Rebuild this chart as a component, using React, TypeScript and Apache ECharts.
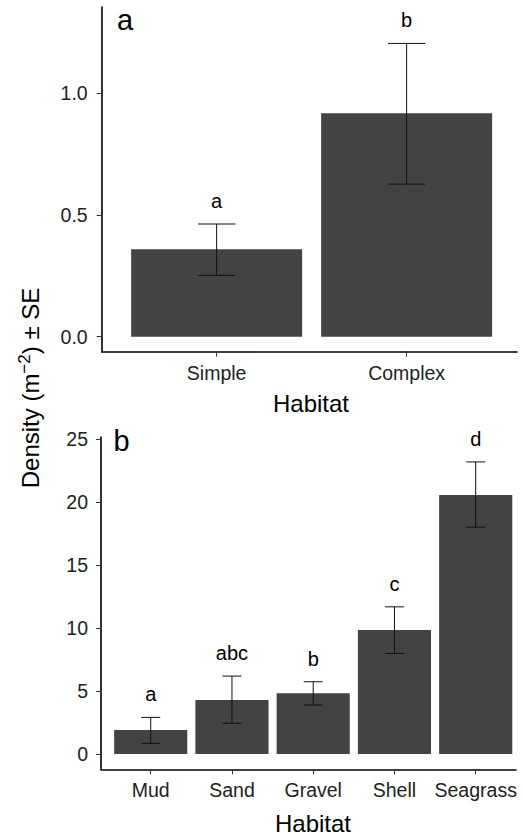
import React, { useEffect, useRef } from "react";
import * as echarts from "echarts";

// Panel a: structural complexity
const habitatsA = ["Simple", "Complex"];
const densityA = [0.359, 0.918];
const seLowA = [0.252, 0.627];
const seHighA = [0.463, 1.205];
const lettersA = ["a", "b"];
const yTicksA = [0, 0.5, 1.0];

// Panel b: substrate type
const habitatsB = ["Mud", "Sand", "Gravel", "Shell", "Seagrass"];
const densityB = [1.9, 4.29, 4.82, 9.84, 20.58];
const seLowB = [0.85, 2.44, 3.89, 7.99, 18.02];
const seHighB = [2.91, 6.19, 5.74, 11.69, 23.2];
const lettersB = ["a", "abc", "b", "c", "d"];
const yTicksB = [0, 5, 10, 15, 20, 25];

const FONT = "'Liberation Sans', Arial, Helvetica, sans-serif";
const BAR = "#434343";
const INK = "#111";

function barWithError(letters: string[], capHalf: number) {
  return (params: any, api: any) => {
    const x = api.value(0);
    const m = api.value(1);
    const lo = api.value(2);
    const hi = api.value(3);
    const tl = api.coord([x - 0.45, m]);
    const br = api.coord([x + 0.45, 0]);
    const pLo = api.coord([x, lo]);
    const pHi = api.coord([x, hi]);
    const cl = api.coord([x - capHalf, hi])[0];
    const cr = api.coord([x + capHalf, hi])[0];
    const line = (x1: number, y1: number, x2: number, y2: number) => ({
      type: "line",
      shape: { x1, y1, x2, y2 },
      style: { stroke: INK, lineWidth: 1 },
    });
    return {
      type: "group",
      children: [
        {
          type: "rect",
          shape: { x: tl[0], y: tl[1], width: br[0] - tl[0], height: br[1] - tl[1] },
          style: { fill: BAR },
        },
        line(pLo[0], pLo[1], pHi[0], pHi[1]),
        line(cl, pHi[1], cr, pHi[1]),
        line(cl, pLo[1], cr, pLo[1]),
        {
          type: "text",
          x: pHi[0],
          y: pHi[1] - 23,
          style: {
            text: letters[params.dataIndex],
            fill: "#000",
            fontSize: 20,
            fontFamily: FONT,
            align: "center",
            verticalAlign: "middle",
          },
        },
      ],
    };
  };
}

function valueX(gridIndex: number, min: number, max: number, names: string[]) {
  const cats = names.map((_, i) => i + 1);
  return {
    type: "value",
    gridIndex,
    min,
    max,
    splitLine: { show: false },
    axisLine: { show: true, onZero: false, lineStyle: { color: "#000", width: 1.6 } },
    axisTick: { show: true, length: 5, customValues: cats, lineStyle: { color: "#333", width: 1 } },
    axisLabel: {
      customValues: cats,
      margin: 11,
      fontSize: 19.5,
      fontFamily: FONT,
      color: "#222",
      formatter: (v: number) => names[Math.round(v) - 1] ?? "",
    },
  };
}

function valueY(gridIndex: number, min: number, max: number, ticks: number[], digits: number, margin: number) {
  return {
    type: "value",
    gridIndex,
    min,
    max,
    splitLine: { show: false },
    axisLine: { show: true, onZero: false, lineStyle: { color: "#000", width: 1.6 } },
    axisTick: { show: true, length: 5, customValues: ticks, lineStyle: { color: "#333", width: 1 } },
    axisLabel: {
      customValues: ticks,
      margin,
      fontSize: 19.5,
      fontFamily: FONT,
      color: "#222",
      formatter: (v: number) => v.toFixed(digits),
    },
  };
}

export default function App() {
  const ref = useRef<HTMLDivElement>(null);

  useEffect(() => {
    if (!ref.current) return;
    const chart = echarts.init(ref.current, undefined, { renderer: "svg" });

    const dataA = densityA.map((v, i) => [i + 1, v, seLowA[i], seHighA[i]]);
    const dataB = densityB.map((v, i) => [i + 1, v, seLowB[i], seHighB[i]]);

    chart.setOption({
      animation: false,
      backgroundColor: "#fff",
      textStyle: { fontFamily: FONT },
      grid: [
        { left: 101.7, top: 7, width: 415.3, height: 344.7 },
        { left: 101, top: 437, width: 415, height: 332.3 },
      ],
      xAxis: [
        valueX(0, 0.395, 2.581, habitatsA),
        valueX(1, 0.388, 5.496, habitatsB),
      ],
      yAxis: [
        valueY(0, -0.0616, 1.3546, yTicksA, 1, 14),
        valueY(1, -1.215, 25.18, yTicksB, 0, 13),
      ],
      series: [
        {
          type: "custom",
          xAxisIndex: 0,
          yAxisIndex: 0,
          clip: false,
          data: dataA,
          encode: { x: 0, y: [1, 2, 3] },
          renderItem: barWithError(lettersA, 0.098),
        },
        {
          type: "custom",
          xAxisIndex: 1,
          yAxisIndex: 1,
          clip: false,
          data: dataB,
          encode: { x: 0, y: [1, 2, 3] },
          renderItem: barWithError(lettersB, 0.117),
        },
      ],
      graphic: [
        {
          type: "text",
          x: 125,
          y: 20,
          style: { text: "a", fontSize: 29, fontFamily: FONT, fill: "#000", align: "center", verticalAlign: "middle" },
        },
        {
          type: "text",
          x: 121.5,
          y: 441,
          style: { text: "b", fontSize: 29, fontFamily: FONT, fill: "#000", align: "center", verticalAlign: "middle" },
        },
        {
          type: "text",
          x: 311,
          y: 403,
          style: { text: "Habitat", fontSize: 24, fontFamily: FONT, fill: "#000", align: "center", verticalAlign: "middle" },
        },
        {
          type: "text",
          x: 313,
          y: 823,
          style: { text: "Habitat", fontSize: 24, fontFamily: FONT, fill: "#000", align: "center", verticalAlign: "middle" },
        },
        {
          type: "text",
          x: 30,
          y: 388,
          rotation: Math.PI / 2,
          style: {
            text: "{n|Density (m}{s|\u22122}{n|) \u00b1 SE}",
            align: "center",
            verticalAlign: "middle",
            fill: "#000",
            rich: {
              n: { fontSize: 24, fontFamily: FONT, fill: "#000", lineHeight: 30 },
              s: { fontSize: 17, fontFamily: FONT, fill: "#000", padding: [0, 0, 12, 0] },
            },
          },
        },
      ],
    });

    return () => chart.dispose();
  }, []);

  return (
    <div
      ref={ref}
      style={{ position: "fixed", left: 0, top: 0, width: 523, height: 836, background: "#fff" }}
    />
  );
}
